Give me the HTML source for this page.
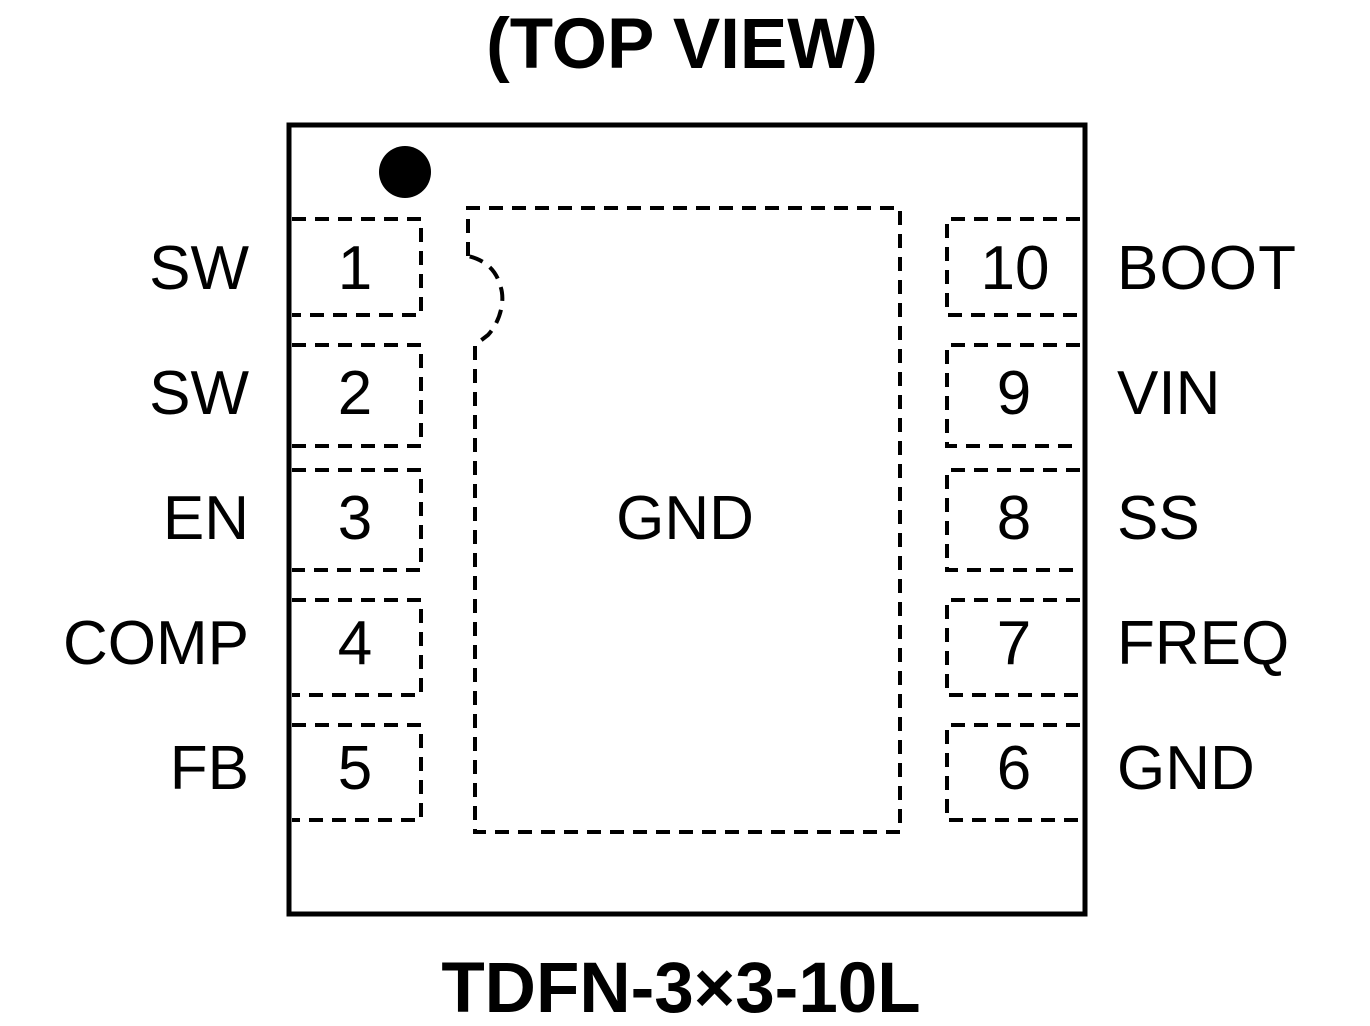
<!DOCTYPE html>
<html><head><style>body{margin:0;background:#fff}</style></head><body>
<svg width="1370" height="1021" xmlns="http://www.w3.org/2000/svg" font-family="Liberation Sans, Arial, sans-serif">
<text x="682" y="68" font-size="71" font-weight="bold" text-anchor="middle">(TOP VIEW)</text>
<text x="681" y="1012" font-size="71" font-weight="bold" text-anchor="middle">TDFN-3×3-10L</text>
<rect x="289" y="125" width="796" height="789" fill="none" stroke="#000" stroke-width="5"/>
<circle cx="405" cy="172" r="26" fill="#000"/>
<g fill="none" stroke="#000" stroke-width="4" stroke-dasharray="14,9">
<path d="M292 219H421V315H292"/>
<path d="M292 345H421V446H292"/>
<path d="M292 470H421V570H292"/>
<path d="M292 600H421V695H292"/>
<path d="M292 725H421V820H292"/>
<path d="M1080 219H947V315H1080"/>
<path d="M1080 345H947V446H1080"/>
<path d="M1080 470H947V570H1080"/>
<path d="M1080 600H947V695H1080"/>
<path d="M1080 725H947V820H1080"/>
<path d="M468 256V208H900V832H475V345L488 335C500 322 506 300 500 285C496 270 485 260 468 256"/>
</g>
<g font-size="62" text-anchor="end">
<text x="249" y="289">SW</text><text x="249" y="414">SW</text><text x="249" y="539">EN</text><text x="249" y="664">COMP</text><text x="249" y="789">FB</text>
</g>
<g font-size="62" text-anchor="middle">
<text x="355" y="289">1</text><text x="355" y="414">2</text><text x="355" y="539">3</text><text x="355" y="664">4</text><text x="355" y="789">5</text>
<text x="1015" y="289">10</text><text x="1014" y="414">9</text><text x="1014" y="539">8</text><text x="1014" y="664">7</text><text x="1014" y="789">6</text>
<text x="685" y="539">GND</text>
</g>
<g font-size="62">
<text x="1117" y="289" textLength="179">BOOT</text><text x="1117" y="414">VIN</text><text x="1117" y="539">SS</text><text x="1117" y="664">FREQ</text><text x="1117" y="789">GND</text>
</g>
</svg>
</body></html>
